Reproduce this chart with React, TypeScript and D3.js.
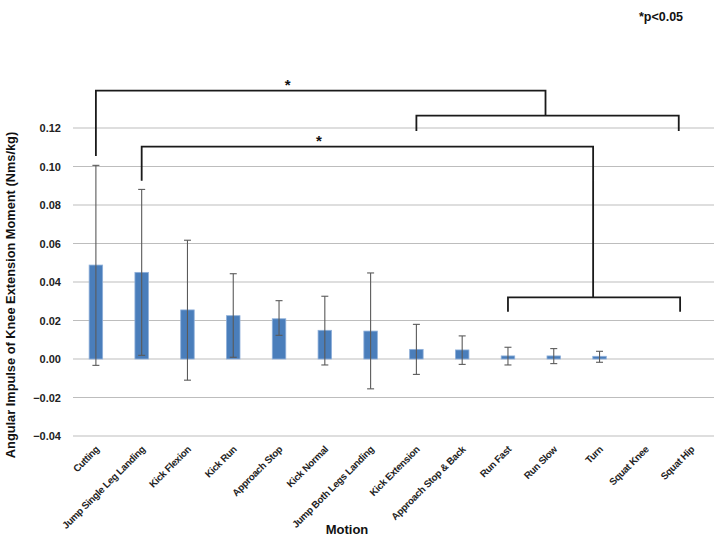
import React from "react";
import * as d3 from "d3";

const categories = [
  "Cutting", "Jump Single Leg Landing", "Kick Flexion", "Kick Run", "Approach Stop",
  "Kick Normal", "Jump Both Legs Landing", "Kick Extension", "Approach Stop & Back",
  "Run Fast", "Run Slow", "Turn", "Squat Knee", "Squat Hip",
];
const means = [0.0488, 0.045, 0.0255, 0.0225, 0.0209, 0.0149, 0.0145, 0.005, 0.0047, 0.0016, 0.0016, 0.0014, 0, 0];
const errHigh = [0.1006, 0.0881, 0.0617, 0.0443, 0.0303, 0.0326, 0.0447, 0.018, 0.012, 0.0061, 0.0054, 0.004, null, null];
const errLow = [-0.0033, 0.0019, -0.011, 0.0009, 0.0123, -0.0031, -0.0155, -0.008, -0.0028, -0.0031, -0.0024, -0.0017, null, null];
const yTicks = [-0.04, -0.02, 0, 0.02, 0.04, 0.06, 0.08, 0.1, 0.12];

// significance brackets: category-index positions and data-value heights
const brackets = [
  { from: 0, to: 9.82, y: 0.1394, leftDrop: 0.1055, rightDrop: 0.1264 },
  { from: 7, to: 12.73, y: 0.1264, leftDrop: 0.1184, rightDrop: 0.1184 },
  { from: 1, to: 10.86, y: 0.1103, leftDrop: 0.0926, rightDrop: 0.032 },
  { from: 9, to: 12.76, y: 0.032, leftDrop: 0.0246, rightDrop: 0.0246 },
];
const stars = [
  { at: 4.19, y: 0.1394 },
  { at: 4.87, y: 0.1103 },
];

const W = 715, H = 540;
const FONT = "'Liberation Sans', Arial, sans-serif";

export default function App() {
  const x = d3.scaleBand<string>().domain(categories).range([73, 714]).padding(0);
  const y = d3.scaleLinear().domain([-0.04, 0.14]).range([436, 89.5]);
  const bw = x.bandwidth();
  const barW = bw * 0.295;
  const cx = (c: string) => (x(c) as number) + bw / 2;
  const xi = d3.scaleLinear().domain([0, categories.length - 1]).range([cx(categories[0]), cx(categories[categories.length - 1])]);
  const fmt = d3.format(".2f");

  return (
    <svg width={W} height={H} style={{ position: "absolute", left: 0, top: 0, background: "#fff" }} fontFamily={FONT}>
      {/* gridlines */}
      {yTicks.map((t) => (
        <line key={t} x1={73} x2={714} y1={y(t)} y2={y(t)} stroke="#bdbdbd" strokeWidth={1.2} />
      ))}
      {/* y tick labels */}
      {yTicks.map((t) => (
        <text key={"l" + t} x={61} y={y(t) + 4} textAnchor="end" fontSize={11} fontWeight="bold" fill="#222">
          {fmt(t)}
        </text>
      ))}
      {/* bars */}
      {categories.map((c, i) =>
        means[i] > 0 ? (
          <rect key={c} x={cx(c) - barW / 2} y={y(means[i])} width={barW} height={y(0) - y(means[i])}
            fill="#4a7ebb" stroke="#8fb0da" strokeWidth={0.8} />
        ) : null
      )}
      {/* error bars */}
      {categories.map((c, i) => {
        const hi = errHigh[i], lo = errLow[i];
        if (hi == null || lo == null) return null;
        const xc = cx(c);
        return (
          <g key={"e" + c} stroke="#5a5a5a" strokeWidth={1.1}>
            <line x1={xc} x2={xc} y1={y(hi)} y2={y(lo)} />
            <line x1={xc - 3.5} x2={xc + 3.5} y1={y(hi)} y2={y(hi)} />
            <line x1={xc - 3.5} x2={xc + 3.5} y1={y(lo)} y2={y(lo)} />
          </g>
        );
      })}
      {/* brackets */}
      {brackets.map((b, i) => (
        <path key={"b" + i}
          d={`M${xi(b.from)},${y(b.leftDrop)}V${y(b.y)}H${xi(b.to)}V${y(b.rightDrop)}`}
          fill="none" stroke="#1a1a1a" strokeWidth={1.8} />
      ))}
      {stars.map((s, i) => (
        <text key={"s" + i} x={xi(s.at)} y={y(s.y) - 1} textAnchor="middle" fontSize={15} fontWeight="bold" fill="#111">*</text>
      ))}
      {/* x labels */}
      {categories.map((c) => (
        <text key={"x" + c} transform={`translate(${cx(c) + 4},${450}) rotate(-45)`} textAnchor="end"
          fontSize={9.8} fontWeight="bold" letterSpacing={-0.3} fill="#222">
          {c}
        </text>
      ))}
      {/* axis titles */}
      <text x={347} y={534} textAnchor="middle" fontSize={13} fontWeight="bold" fill="#111">Motion</text>
      <text transform={`translate(15,${295}) rotate(-90)`} textAnchor="middle" fontSize={12.8} fontWeight="bold" fill="#111">
        Angular Impulse of Knee Extension Moment (Nms/kg)
      </text>
      <text x={661} y={21} textAnchor="middle" fontSize={12.5} fontWeight="bold" fill="#111">*p&lt;0.05</text>
    </svg>
  );
}
